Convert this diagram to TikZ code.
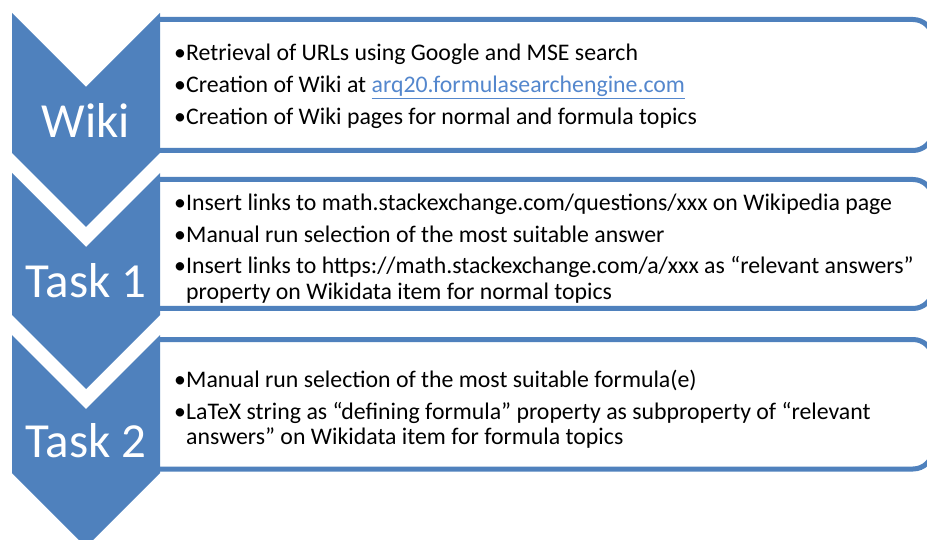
\documentclass[tikz,border=0pt]{standalone}
\usepackage{fontspec}
\setmainfont{Carlito}
\definecolor{obl}{RGB}{79,129,189}
\definecolor{linkc}{RGB}{84,135,205}
\newcommand\itm[1]{\makebox[12pt][l]{•}#1}
\begin{document}
\begin{tikzpicture}[x=1pt,y=-1pt,
  boxline/.style={draw=obl,line width=5pt,fill=white,rounded corners=20pt},
  chev/.style={fill=obl,draw=none},
  lab/.style={text=white,font=\fontsize{49}{55}\selectfont,inner sep=0pt},
  txt/.style={anchor=base west,inner sep=0pt,font=\fontsize{23.8}{28}\selectfont}]
\clip (0,0) rectangle (927,540);
% boxes
\filldraw[boxline] (158,19.5) -- (933,19.5) -- (933,150.5) -- (158,150.5);
\filldraw[boxline] (158,179.5) -- (933,179.5) -- (933,308.5) -- (158,308.5);
\filldraw[boxline] (158,339.5) -- (933,339.5) -- (933,469) -- (158,469);
% chevrons
\fill[chev] (12,13) -- (86,87) -- (160,13) -- (160,153) -- (86,227) -- (12,153) -- cycle;
\fill[chev] (12,173) -- (86,247) -- (160,173) -- (160,315) -- (86,389) -- (12,315) -- cycle;
\fill[chev] (12,335) -- (86,409) -- (160,335) -- (160,473) -- (86,547) -- (12,473) -- cycle;
\node[lab] (l1) at (86,120) {Wiki};
\node[lab] (l2) at (86,281) {Task 1};
\node[lab] (l3) at (86,441) {Task 2};
% box 1 text
\node[txt] (a1) at (174,61) {\itm{Retrieval of URLs using Google and MSE search}};
\node[txt] (a2) at (174,93) {\itm{Creation of Wiki at \textcolor{linkc}{\underline{arq20.formulasearchengine.com}}}};
\node[txt] (a3) at (174,125) {\itm{Creation of Wiki pages for normal and formula topics}};
% box 2 text
\node[txt] (b1) at (174,211) {\itm{Insert links to math.stackexchange.com/questions/xxx on Wikipedia page}};
\node[txt] (b2) at (174,243) {\itm{Manual run selection of the most suitable answer}};
\node[txt] (b3) at (174,274) {\itm{Insert links to https://math.stackexchange.com/a/xxx as “relevant answers”}};
\node[txt] (b4) at (186,299) {property on Wikidata item for normal topics};
% box 3 text
\node[txt] (c1) at (174,387) {\itm{Manual run selection of the most suitable formula(e)}};
\node[txt] (c2) at (174,419) {\itm{LaTeX string as “defining formula” property as subproperty of “relevant}};
\node[txt] (c3) at (186,444) {answers” on Wikidata item for formula topics};
\end{tikzpicture}
\end{document}
